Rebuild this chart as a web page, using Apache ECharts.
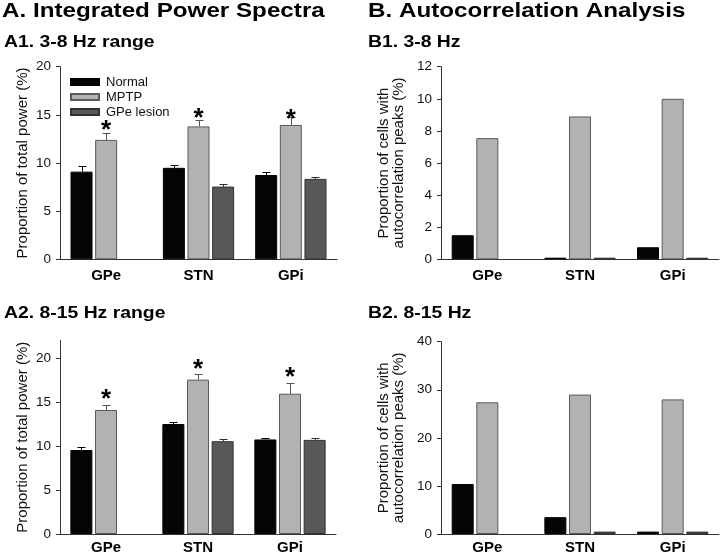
<!DOCTYPE html>
<html><head><meta charset="utf-8">
<script src="https://cdn.jsdelivr.net/npm/echarts@6/dist/echarts.min.js"></script>
<style>html,body{margin:0;padding:0;background:#fff}#c{width:720px;height:557px}</style>
</head><body><div id="c"></div>
<script>
// ---- data ----
const categories = ['GPe', 'STN', 'GPi'];
const seriesNames = ['Normal', 'MPTP', 'GPe lesion'];

// A1. 3-8 Hz power (% of total) and SEM
const a1Normal = [9.1, 9.5, 8.75];
const a1NormalErr = [0.6, 0.25, 0.28];
const a1Mptp = [12.4, 13.8, 13.95];
const a1MptpErr = [0.75, 0.7, 0.86];
const a1Lesion = [null, 7.55, 8.35];
const a1LesionErr = [null, 0.25, 0.2];
const a1Star = [14.1, 15.3, 15.2];
const a1Ticks = [0, 5, 10, 15, 20];

// A2. 8-15 Hz power
const a2Normal = [9.55, 12.5, 10.75];
const a2NormalErr = [0.38, 0.27, 0.2];
const a2Mptp = [14.1, 17.55, 15.95];
const a2MptpErr = [0.57, 0.63, 1.17];
const a2Lesion = [null, 10.55, 10.7];
const a2LesionErr = [null, 0.23, 0.19];
const a2Star = [16.0, 19.5, 18.55];
const a2Ticks = [0, 5, 10, 15, 20];

// B1. 3-8 Hz autocorrelation peaks (% cells)
const b1Normal = [1.5, 0.1, 0.75];
const b1Mptp = [7.55, 8.9, 10.0];
const b1Lesion = [null, 0.1, 0.1];
const b1Ticks = [0, 2, 4, 6, 8, 10, 12];

// B2. 8-15 Hz autocorrelation peaks
const b2Normal = [10.4, 3.5, 0.5];
const b2Mptp = [27.4, 29.0, 28.0];
const b2Lesion = [null, 0.5, 0.5];
const b2Ticks = [0, 10, 20, 30, 40];

// ---- style ----
const FF = 'Liberation Sans, Arial, Helvetica, sans-serif';
const BAR_W = 22, BAR_GAP = 0.12;
const colors = {
  'Normal': { fill: '#050505', border: '#000000', err: '#000000' },
  'MPTP': { fill: '#b2b2b2', border: '#5a5a5a', err: '#555555' },
  'GPe lesion': { fill: '#585858', border: '#303030', err: '#303030' }
};

function barSeries(name, data, gi) {
  const c = colors[name];
  return {
    type: 'bar', name, xAxisIndex: gi, yAxisIndex: gi, data,
    barWidth: BAR_W, barGap: (BAR_GAP * 100) + '%',
    itemStyle: { color: c.fill, borderColor: c.border, borderWidth: 1 },
    z: 2, silent: true
  };
}
function errSeries(name, gi, vals, errs, slot) {
  const col = colors[name].err;
  const data = [];
  vals.forEach((v, i) => { if (v != null && errs[i] != null) data.push([i, v, errs[i]]); });
  return {
    type: 'custom', xAxisIndex: gi, yAxisIndex: gi, data, z: 3, silent: true,
    encode: { x: 0, y: 1 },
    renderItem: (params, api) => {
      const i = api.value(0), v = api.value(1), e = api.value(2);
      const a = api.coord([i, v]);
      const b = api.coord([i, v + e]);
      const x = Math.round(a[0] + slot * BAR_W * (1 + BAR_GAP)) + 0.5;
      const yb = Math.round(b[1]) + 0.5;
      return {
        type: 'group', children: [
          { type: 'line', shape: { x1: x, y1: a[1], x2: x, y2: yb }, style: { stroke: col, lineWidth: 1 } },
          { type: 'line', shape: { x1: x - 4, y1: yb, x2: x + 4, y2: yb }, style: { stroke: col, lineWidth: 1 } }
        ]
      };
    }
  };
}
function starSeries(gi, stars) {
  const data = [];
  stars.forEach((s, i) => { if (s != null) data.push([i, s]); });
  return {
    type: 'custom', xAxisIndex: gi, yAxisIndex: gi, data, z: 4, silent: true,
    encode: { x: 0, y: 1 },
    renderItem: (params, api) => {
      const p = api.coord([api.value(0), api.value(1)]);
      return {
        type: 'text', x: p[0], y: p[1] + 7,
        style: { text: '*', fill: '#000', fontSize: 26, fontWeight: 'bold', fontFamily: FF, align: 'center', verticalAlign: 'middle' }
      };
    }
  };
}
function xAx(gi, margin) {
  return {
    type: 'category', gridIndex: gi, data: categories,
    axisLine: { show: true, lineStyle: { color: '#333', width: 1 } },
    axisTick: { show: false },
    axisLabel: { margin, color: '#000', fontSize: 15, fontWeight: 'bold', fontFamily: FF },
    splitLine: { show: false }
  };
}
function yAx(gi, max, ticks, name, gap, lh) {
  return {
    type: 'value', gridIndex: gi, min: 0, max, interval: ticks[1] - ticks[0],
    axisLine: { show: true, lineStyle: { color: '#333', width: 1 } },
    axisTick: { show: true, length: 4, customValues: ticks, lineStyle: { color: '#333' } },
    axisLabel: { customValues: ticks, margin: 9, color: '#111', fontSize: 13.5, fontFamily: FF },
    splitLine: { show: false },
    name, nameLocation: 'middle', nameGap: gap,
    nameTextStyle: { color: '#111', fontSize: 15, fontFamily: FF, lineHeight: lh }
  };
}
function title(text, x, y, size) {
  return {
    type: 'text', x, y, scaleX: 1.21,
    style: { text, fill: '#000', fontSize: size, fontWeight: 'bold', fontFamily: FF, align: 'left', verticalAlign: 'middle' }
  };
}

const chart = echarts.init(document.getElementById('c'), null, { renderer: 'canvas' });
const nameA = 'Proportion of total power (%)';
const nameB = 'Proportion of cells with\nautocorrelation peaks (%)';
chart.setOption({
  animation: false,
  backgroundColor: '#fff',
  textStyle: { fontFamily: FF },
  graphic: [
    title('A. Integrated Power Spectra', 2, 11.7, 20),
    title('B. Autocorrelation Analysis', 368, 11.7, 20),
    title('A1. 3-8 Hz range', 4, 42.7, 16),
    title('B1. 3-8 Hz', 368, 42.2, 16),
    title('A2. 8-15 Hz range', 4, 314, 16),
    title('B2. 8-15 Hz', 368, 314, 16)
  ],
  legend: {
    data: seriesNames, orient: 'vertical', left: 65, top: 70,
    itemWidth: 28, itemHeight: 6, itemGap: 1, icon: 'rect', selectedMode: false,
    textStyle: { fontSize: 13, lineHeight: 14, color: '#111', fontFamily: FF, padding: [0, 0, 0, 2] }
  },
  grid: [
    { left: 60, top: 66.7, width: 277, height: 192.6 },
    { left: 60, top: 340.5, width: 276, height: 193.5 },
    { left: 441, top: 66.7, width: 278, height: 192.6 },
    { left: 441, top: 341.7, width: 278, height: 192.3 }
  ],
  xAxis: [xAx(0, 9), xAx(1, 6), xAx(2, 9), xAx(3, 6)],
  yAxis: [
    yAx(0, 20, a1Ticks, nameA, 30, 15),
    yAx(1, 22, a2Ticks, nameA, 30, 15),
    yAx(2, 12, b1Ticks, nameB, 35, 14.5),
    yAx(3, 40, b2Ticks, nameB, 35, 14.5)
  ],
  series: [
    barSeries('Normal', a1Normal, 0), barSeries('MPTP', a1Mptp, 0), barSeries('GPe lesion', a1Lesion, 0),
    errSeries('Normal', 0, a1Normal, a1NormalErr, -1), errSeries('MPTP', 0, a1Mptp, a1MptpErr, 0), errSeries('GPe lesion', 0, a1Lesion, a1LesionErr, 1),
    starSeries(0, a1Star),
    barSeries('Normal', a2Normal, 1), barSeries('MPTP', a2Mptp, 1), barSeries('GPe lesion', a2Lesion, 1),
    errSeries('Normal', 1, a2Normal, a2NormalErr, -1), errSeries('MPTP', 1, a2Mptp, a2MptpErr, 0), errSeries('GPe lesion', 1, a2Lesion, a2LesionErr, 1),
    starSeries(1, a2Star),
    barSeries('Normal', b1Normal, 2), barSeries('MPTP', b1Mptp, 2), barSeries('GPe lesion', b1Lesion, 2),
    barSeries('Normal', b2Normal, 3), barSeries('MPTP', b2Mptp, 3), barSeries('GPe lesion', b2Lesion, 3)
  ]
});
</script></body></html>
